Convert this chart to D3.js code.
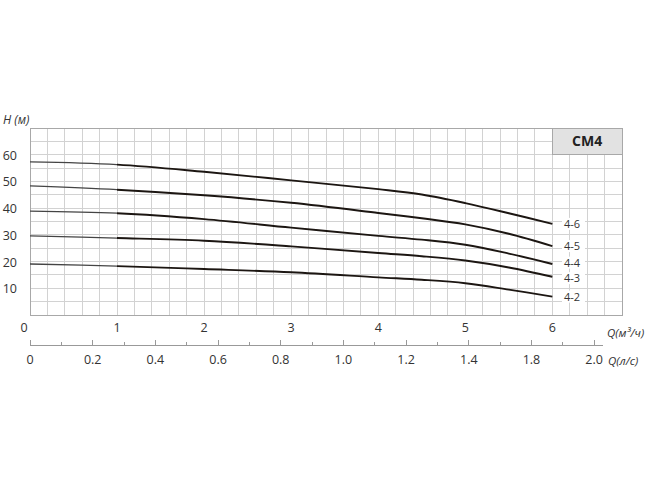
<!DOCTYPE html>
<html><head><meta charset="utf-8">
<script src="https://cdn.jsdelivr.net/npm/d3@7"></script>
<style>
html,body{margin:0;padding:0;background:#fff;}
svg text{font-family:"Open Sans","Noto Sans",sans-serif;fill:#333;}
</style></head>
<body><svg id="c" width="650" height="486"></svg>
<script>
// Flow (m3/h) sample points
const flowQ = [0, 1, 2, 3, 4, 4.5, 5, 5.5, 6];
// Head (m) per pump model
const seriesNames = ["4-6", "4-5", "4-4", "4-3", "4-2"];
const head46 = [57.3, 56.3, 53.6, 50.4, 47.1, 45.1, 41.9, 38.1, 34.1];
const head45 = [48.3, 46.9, 44.8, 42.0, 38.2, 36.2, 33.9, 30.4, 25.8];
const head44 = [38.9, 38.1, 35.9, 32.7, 29.6, 28.2, 26.3, 23.0, 19.1];
const head43 = [29.6, 28.8, 27.8, 25.7, 23.2, 22.0, 20.4, 17.8, 14.3];
const head42 = [19.1, 18.3, 17.2, 16.0, 14.1, 13.2, 11.9, 9.5, 6.9];
const heads = [head46, head45, head44, head43, head42];
// Axis ticks / labels
const hTicks = [10, 20, 30, 40, 50, 60];
const qTicks = [0, 1, 2, 3, 4, 5, 6];
const lsTicks = [0, 0.1, 0.2, 0.3, 0.4, 0.5, 0.6, 0.7, 0.8, 0.9, 1.0, 1.1, 1.2, 1.3, 1.4, 1.5, 1.6, 1.7, 1.8];
const lsLabelValues = [0, 0.2, 0.4, 0.6, 0.8, 1.0, 1.2, 1.4, 1.6, 1.8];
const lsLabelTexts = ["0", "0.2", "0.4", "0.6", "0.8", "1.0", "1.2", "1.4", "1.8", "2.0"];
const titleText = "CM4";

const svg = d3.select("#c");
const x = d3.scaleLinear().domain([0, 6.8]).range([30, 622]);
const y = d3.scaleLinear().domain([0, 70]).range([315, 128]);
const xl = d3.scaleLinear().domain([0, 6.8 / 3.6]).range([30, 622]);

// grid
const g = svg.append("g");
g.selectAll("line.v").data(d3.range(1, 34)).enter().append("line")
  .attr("x1", d => x(d * 0.2)).attr("x2", d => x(d * 0.2))
  .attr("y1", y(0)).attr("y2", y(70))
  .attr("stroke", "#d2d2d2").attr("stroke-width", 1).attr("shape-rendering", "crispEdges");
g.selectAll("line.h").data(d3.range(1, 14)).enter().append("line")
  .attr("y1", d => y(d * 5)).attr("y2", d => y(d * 5))
  .attr("x1", x(0)).attr("x2", x(6.8))
  .attr("stroke", "#d2d2d2").attr("stroke-width", 1).attr("shape-rendering", "crispEdges");
g.append("rect").attr("x", x(0)).attr("y", y(70)).attr("width", x(6.8) - x(0)).attr("height", y(0) - y(70))
  .attr("fill", "none").attr("stroke", "#a8a8a8").attr("shape-rendering", "crispEdges");

// title box
svg.append("rect").attr("x", x(6)).attr("y", y(70)).attr("width", x(6.8) - x(6)).attr("height", y(60) - y(70))
  .attr("fill", "#e2e2e2").attr("stroke", "#a8a8a8").attr("shape-rendering", "crispEdges");
svg.append("text").attr("x", (x(6) + x(6.8)) / 2).attr("y", (y(60) + y(70)) / 2 + 5)
  .attr("text-anchor", "middle").style("font-size", "14px").style("font-weight", "bold").style("fill", "#222")
  .text(titleText);

// curves
const line = d3.line().x(d => x(d[0])).y(d => y(d[1])).curve(d3.curveCatmullRom.alpha(0.5));
const defs = svg.append("defs");
defs.append("clipPath").attr("id", "clipL").append("rect")
  .attr("x", 0).attr("y", 0).attr("width", x(1)).attr("height", 486);
defs.append("clipPath").attr("id", "clipR").append("rect")
  .attr("x", x(1)).attr("y", 0).attr("width", 650).attr("height", 486);

// label positions: curve end, pushed apart to a minimum spacing
const minGap = 15.5;
const labelY = heads.map(hs => y(hs[hs.length - 1]));
for (let iter = 0; iter < 20; iter++) {
  for (let i = 0; i < labelY.length - 1; i++) {
    const gap = labelY[i + 1] - labelY[i];
    if (gap < minGap) {
      const d = (minGap - gap) / 2;
      labelY[i] -= d; labelY[i + 1] += d;
    }
  }
}

heads.forEach((hs, i) => {
  const pts = flowQ.map((q, j) => [q, hs[j]]);
  svg.append("path").attr("d", line(pts)).attr("fill", "none")
    .attr("stroke", "#444").attr("stroke-width", 1.3).attr("clip-path", "url(#clipL)");
  svg.append("path").attr("d", line(pts)).attr("fill", "none")
    .attr("stroke", "#1c1612").attr("stroke-width", 1.9).attr("clip-path", "url(#clipR)");
  const ly = labelY[i];
  svg.append("rect").attr("x", 562).attr("y", ly - 6).attr("width", 23).attr("height", 12).attr("fill", "#fff");
  svg.append("text").attr("x", 564).attr("y", ly + 4).style("font-size", "11px").text(seriesNames[i]);
});

// Y labels
svg.selectAll("text.yl").data(hTicks).enter().append("text")
  .attr("x", 17).attr("y", d => y(d) + 5).attr("text-anchor", "end").style("font-size", "12.5px").text(d => d);
svg.append("text").attr("x", 3).attr("y", 124).style("font-size", "12px").style("font-style", "italic").text("H (м)");

// top x labels (m3/h)
svg.selectAll("text.ql").data(qTicks).enter().append("text")
  .attr("x", d => x(d) - (d === 0 ? 6 : 0)).attr("y", 332).attr("text-anchor", "middle")
  .style("font-size", "12.5px").text(d => d);
svg.append("text").attr("x", 607).attr("y", 337).style("font-size", "11.5px").style("font-style", "italic").text("Q(м³/ч)");

// bottom axis (l/s)
svg.append("line").attr("x1", xl(0)).attr("x2", 603).attr("y1", 345).attr("y2", 345)
  .attr("stroke", "#999").attr("stroke-width", 1).attr("shape-rendering", "crispEdges");
svg.selectAll("line.lt").data(lsTicks).enter().append("line")
  .attr("x1", d => xl(d)).attr("x2", d => xl(d)).attr("y1", 345).attr("y2", d => Math.abs(d * 5 - Math.round(d * 5)) < 1e-6 ? 340 : 342)
  .attr("stroke", "#999").attr("shape-rendering", "crispEdges");
svg.selectAll("text.ll").data(lsLabelValues).enter().append("text")
  .attr("x", d => xl(d)).attr("y", 364).attr("text-anchor", "middle").style("font-size", "12.5px")
  .text((d, i) => lsLabelTexts[i]);
svg.append("text").attr("x", 608).attr("y", 365).style("font-size", "11.5px").style("font-style", "italic").text("Q(л/с)");
</script></body></html>
